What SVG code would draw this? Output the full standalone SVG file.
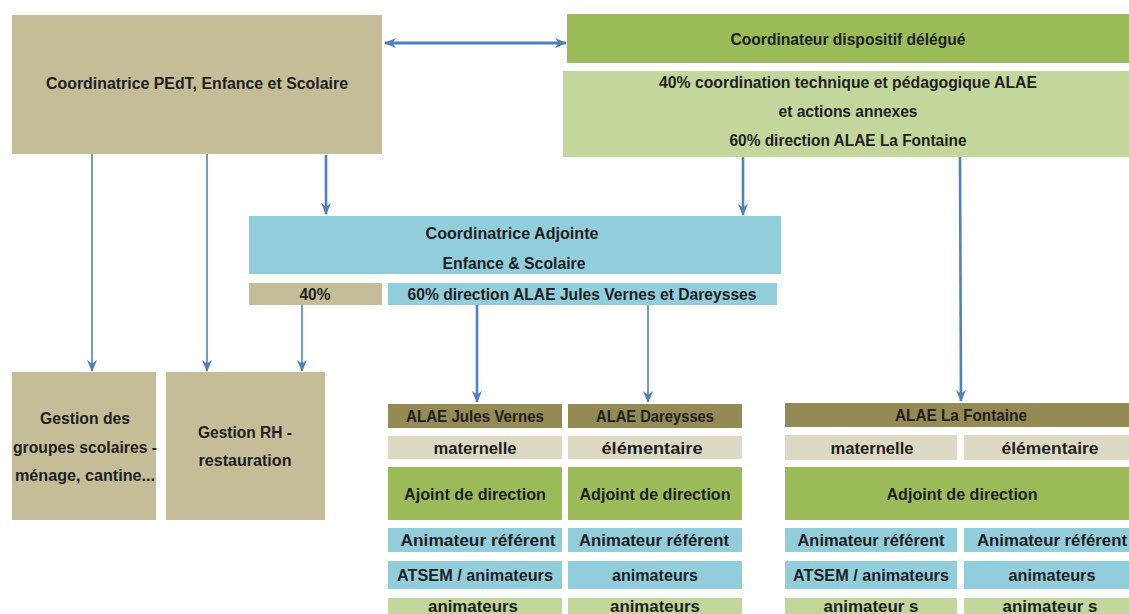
<svg xmlns="http://www.w3.org/2000/svg" width="1129" height="614" viewBox="0 0 1129 614">
<defs>
<style>
text{font-family:"Liberation Sans",Arial,sans-serif;font-weight:bold;fill:#1e1e1e;text-anchor:middle;font-size:16px}
.tan{fill:#c4bd97}.hdr{fill:#948a54}.bei{fill:#ddd9c3}.grn{fill:#9bbb59}.lgr{fill:#c3d69b}.blu{fill:#92cddc}
.c{stroke:#4f81bd;fill:none}
.t1{stroke-width:1.6}.t2{stroke-width:2.6}
.r{font-size:17px}
</style>
<marker id="ah" markerUnits="userSpaceOnUse" viewBox="0 0 12 12" refX="11" refY="6" markerWidth="12" markerHeight="12" orient="auto">
<path d="M0,1 L12,6 L0,11 L3.5,6 z" fill="#4f81bd"/>
</marker>
<marker id="as" markerUnits="userSpaceOnUse" viewBox="0 0 12 12" refX="1" refY="6" markerWidth="12" markerHeight="12" orient="auto">
<path d="M12,1 L0,6 L12,11 L8.5,6 z" fill="#4f81bd"/>
</marker>
</defs>
<rect width="1129" height="614" fill="#ffffff"/>

<g id="connectors">
<line class="c" x1="385" y1="43" x2="566" y2="43" stroke-width="3" marker-start="url(#as)" marker-end="url(#ah)"/>
<line class="c t1" x1="92" y1="154" x2="92" y2="371" marker-end="url(#ah)"/>
<line class="c t1" x1="207" y1="154" x2="207" y2="371" marker-end="url(#ah)"/>
<line class="c t2" x1="326" y1="155" x2="326" y2="214" marker-end="url(#ah)"/>
<line class="c t2" x1="743" y1="157" x2="743" y2="215" marker-end="url(#ah)"/>
<line class="c t2" x1="960" y1="157" x2="961" y2="401" marker-end="url(#ah)"/>
<line class="c t1" x1="302" y1="305" x2="302" y2="371" marker-end="url(#ah)"/>
<line class="c t2" x1="477" y1="305" x2="477" y2="402" marker-end="url(#ah)"/>
<line class="c t1" x1="648" y1="305" x2="648" y2="402" marker-end="url(#ah)"/>
</g>

<g id="coord-pedt">
<rect class="tan" x="12" y="15" width="370" height="139"/>
<text x="197" y="89" textLength="302" lengthAdjust="spacingAndGlyphs">Coordinatrice PEdT, Enfance et Scolaire</text>
</g>

<g id="coord-delegue">
<rect class="grn" x="567" y="14" width="562" height="49"/>
<text x="848" y="45" textLength="235" lengthAdjust="spacingAndGlyphs">Coordinateur dispositif délégué</text>
</g>

<g id="coord-delegue-detail">
<rect class="lgr" x="563" y="71" width="566" height="86"/>
<text x="848" y="88" textLength="378" lengthAdjust="spacingAndGlyphs">40% coordination technique et pédagogique ALAE</text>
<text x="848" y="117" textLength="139" lengthAdjust="spacingAndGlyphs">et actions annexes</text>
<text x="848" y="146" textLength="237" lengthAdjust="spacingAndGlyphs">60% direction ALAE La Fontaine</text>
</g>

<g id="coord-adjointe">
<rect class="blu" x="249" y="216" width="532" height="58"/>
<text x="512" y="239" textLength="173" lengthAdjust="spacingAndGlyphs">Coordinatrice Adjointe</text>
<text x="514" y="269" textLength="143" lengthAdjust="spacingAndGlyphs">Enfance &amp; Scolaire</text>
</g>

<g id="adj-40">
<rect class="tan" x="249" y="283" width="133" height="22"/>
<text x="315" y="300" textLength="31" lengthAdjust="spacingAndGlyphs">40%</text>
</g>

<g id="adj-60">
<rect class="blu" x="388" y="283" width="389" height="22"/>
<text x="582" y="300" textLength="349" lengthAdjust="spacingAndGlyphs">60% direction ALAE Jules Vernes et Dareysses</text>
</g>

<g id="gestion-groupes">
<rect class="tan" x="12" y="372" width="144" height="148"/>
<text x="85" y="424" textLength="90" lengthAdjust="spacingAndGlyphs">Gestion des</text>
<text x="85" y="453" textLength="144" lengthAdjust="spacingAndGlyphs">groupes scolaires -</text>
<text x="85" y="481" textLength="140" lengthAdjust="spacingAndGlyphs">ménage, cantine...</text>
</g>

<g id="gestion-rh">
<rect class="tan" x="166" y="372" width="159" height="148"/>
<text x="245" y="438" textLength="94" lengthAdjust="spacingAndGlyphs">Gestion RH -</text>
<text x="245" y="466" textLength="93" lengthAdjust="spacingAndGlyphs">restauration</text>
</g>

<g id="alae-jules-vernes">
<rect class="hdr" x="388" y="404" width="174" height="24"/>
<text x="475" y="422" textLength="138" lengthAdjust="spacingAndGlyphs">ALAE Jules Vernes</text>
<rect class="bei" x="388" y="436" width="174" height="23"/>
<text x="475" y="454" textLength="83" lengthAdjust="spacingAndGlyphs">maternelle</text>
<rect class="grn" x="388" y="467" width="174" height="53"/>
<text class="r" x="475" y="500" textLength="142" lengthAdjust="spacingAndGlyphs">Ajoint de direction</text>
<rect class="blu" x="388" y="528" width="174" height="24"/>
<text class="r" x="478" y="546" textLength="155" lengthAdjust="spacingAndGlyphs">Animateur référent</text>
<rect class="blu" x="388" y="561" width="174" height="28"/>
<text class="r" x="475" y="581" textLength="156" lengthAdjust="spacingAndGlyphs">ATSEM / animateurs</text>
<rect class="lgr" x="388" y="598" width="174" height="20"/>
<text class="r" x="473" y="612" textLength="90" lengthAdjust="spacingAndGlyphs">animateurs</text>
</g>

<g id="alae-dareysses">
<rect class="hdr" x="568" y="404" width="174" height="24"/>
<text x="655" y="422" textLength="118" lengthAdjust="spacingAndGlyphs">ALAE Dareysses</text>
<rect class="bei" x="568" y="436" width="174" height="23"/>
<text x="652" y="454" textLength="101" lengthAdjust="spacingAndGlyphs">élémentaire</text>
<rect class="grn" x="568" y="467" width="174" height="53"/>
<text class="r" x="655" y="500" textLength="151" lengthAdjust="spacingAndGlyphs">Adjoint de direction</text>
<rect class="blu" x="568" y="528" width="174" height="24"/>
<text class="r" x="654" y="546" textLength="150" lengthAdjust="spacingAndGlyphs">Animateur référent</text>
<rect class="blu" x="568" y="561" width="174" height="28"/>
<text class="r" x="655" y="581" textLength="86" lengthAdjust="spacingAndGlyphs">animateurs</text>
<rect class="lgr" x="568" y="598" width="174" height="20"/>
<text class="r" x="655" y="612" textLength="90" lengthAdjust="spacingAndGlyphs">animateurs</text>
</g>

<g id="alae-la-fontaine">
<rect class="hdr" x="785" y="403" width="344" height="24"/>
<text x="961" y="421" textLength="132" lengthAdjust="spacingAndGlyphs">ALAE La Fontaine</text>
<rect class="bei" x="785" y="435" width="172" height="25"/>
<text x="872" y="454" textLength="83" lengthAdjust="spacingAndGlyphs">maternelle</text>
<rect class="bei" x="964" y="435" width="165" height="25"/>
<text x="1050" y="454" textLength="97" lengthAdjust="spacingAndGlyphs">élémentaire</text>
<rect class="grn" x="785" y="467" width="344" height="53"/>
<text class="r" x="962" y="500" textLength="151" lengthAdjust="spacingAndGlyphs">Adjoint de direction</text>
<rect class="blu" x="785" y="528" width="172" height="24"/>
<text class="r" x="871" y="546" textLength="147" lengthAdjust="spacingAndGlyphs">Animateur référent</text>
<rect class="blu" x="964" y="528" width="165" height="24"/>
<text class="r" x="1052" y="546" textLength="150" lengthAdjust="spacingAndGlyphs">Animateur référent</text>
<rect class="blu" x="785" y="561" width="172" height="28"/>
<text class="r" x="871" y="581" textLength="156" lengthAdjust="spacingAndGlyphs">ATSEM / animateurs</text>
<rect class="blu" x="964" y="561" width="165" height="28"/>
<text class="r" x="1052" y="581" textLength="87" lengthAdjust="spacingAndGlyphs">animateurs</text>
<rect class="lgr" x="785" y="598" width="172" height="20"/>
<text class="r" x="871" y="612" textLength="95" lengthAdjust="spacingAndGlyphs">animateur s</text>
<rect class="lgr" x="964" y="598" width="165" height="20"/>
<text class="r" x="1050" y="612" textLength="95" lengthAdjust="spacingAndGlyphs">animateur s</text>
</g>
</svg>
